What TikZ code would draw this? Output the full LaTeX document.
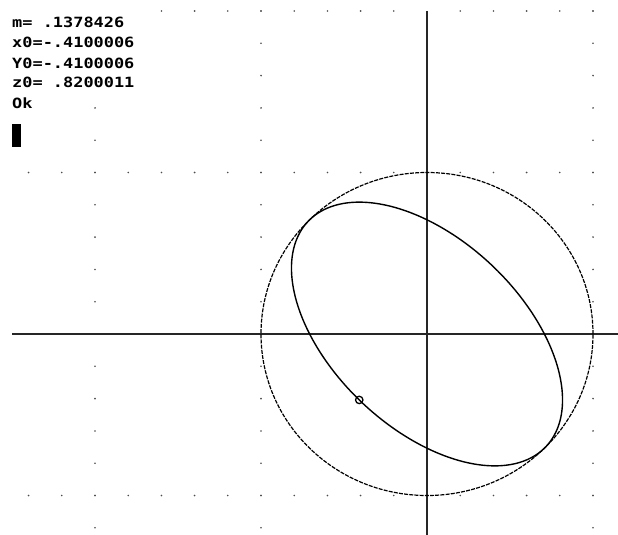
\documentclass[tikz,border=0pt]{standalone}
\usepackage{fontspec}
\newfontfamily\scrfont[FakeStretch=1.2]{DejaVu Sans Mono}
\begin{document}
\begin{tikzpicture}[x=1pt,y=-1pt,
  griddot/.style={fill=black!70},
  axisline/.style={line width=1.8pt, black!85},
  sphere/.style={line width=1.2pt, black, dash pattern=on 4pt off 1.2pt},
  orbit/.style={line width=1.4pt, black},
  marker/.style={line width=1.3pt, black},
  readout/.style={anchor=base west, inner sep=0pt, font=\scrfont\bfseries\fontsize{14.1}{20}\selectfont}]
\useasboundingbox (0,0) rectangle (618,535);
\fill[white] (0,0) rectangle (618,535);

% text readout
\node[readout] (m)  at (12,27.7)  {m= .1378426};
\node[readout] (x0) at (12,48)    {x0=-.4100006};
\node[readout] (y0) at (12,68)    {Y0=-.4100006};
\node[readout] (z0) at (12,87.5)  {z0= .8200011};
\node[readout] (ok) at (12,108)   {Ok};
\fill[black] (12,124) rectangle (21,146.5);

% axes
\draw[axisline] (12,334) -- (618,334);
\draw[axisline] (427,11) -- (427,535);

\begin{scope}[shift={(427,334)}, x=33.2pt, y=32.3pt]
  % dotted grid
  \foreach \k in {-12,...,-1,1,2,3,4,5} {
    \fill[griddot] (\k,5) circle[radius=0.9pt];
    \fill[griddot] (\k,-5) circle[radius=0.9pt];
  }
  \foreach \k in {-8,...,-1,1,2,3,4,5} {
    \fill[griddot] (\k,10) circle[radius=0.9pt];
  }
  \foreach \j in {-6,...,-1,1,2,...,10} {
    \fill[griddot] (-5,\j) circle[radius=0.9pt];
    \fill[griddot] (5,\j) circle[radius=0.9pt];
  }
  \foreach \j in {-6,...,-1,1,2,...,7} {
    \fill[griddot] (-10,\j) circle[radius=0.9pt];
  }
  % sphere outline
  \draw[sphere] (0,0) ellipse[x radius=5, y radius=5];
  % projected great circle
  \draw[orbit] plot[variable=\t, domain=0:358.5, samples=240, smooth cycle]
    ({(5*cos(\t)+2.887*sin(\t))/sqrt(2)}, {(-5*cos(\t)+2.887*sin(\t))/sqrt(2)});
  % marker
  \coordinate (p) at (-2.041,-2.041);
  \draw[marker] (p) circle[radius=3.7pt];
\end{scope}
\end{tikzpicture}
\end{document}
